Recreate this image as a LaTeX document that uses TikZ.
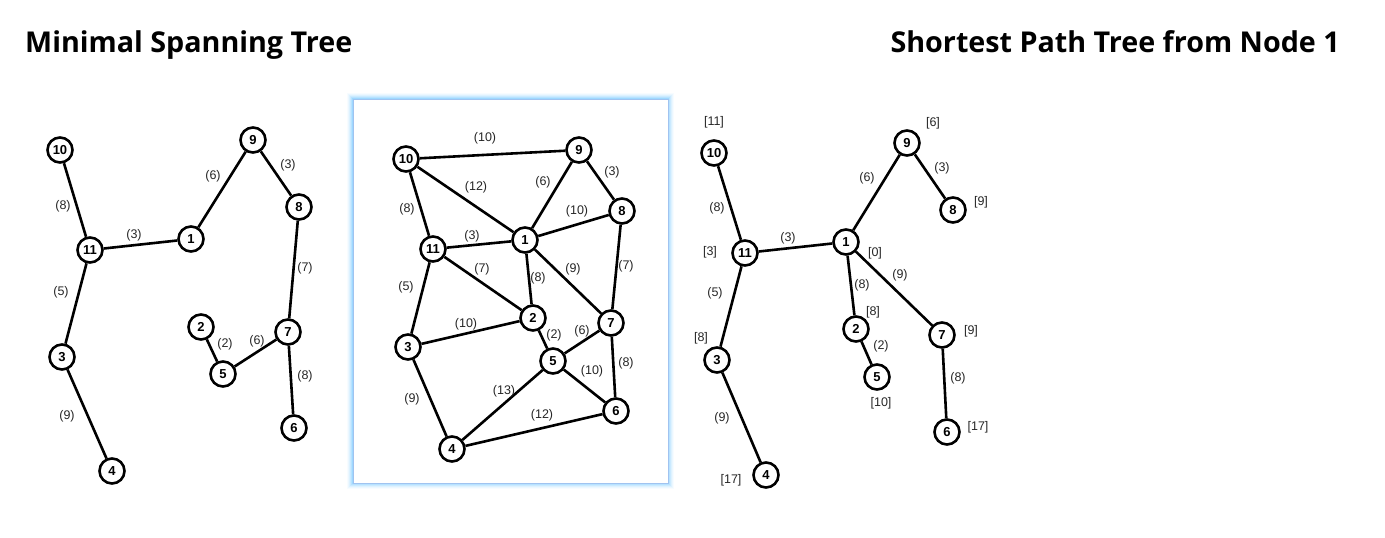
\documentclass[tikz,border=0pt]{standalone}
\usepackage{fontspec}
\setmainfont{Liberation Sans}
\newfontfamily\titlefont{Open Sans}
\begin{document}
\begin{tikzpicture}[x=1pt,y=-1pt,
  vert/.style={circle, draw, line width=2.6pt, fill=white, minimum size=25pt, inner sep=0pt, font=\bfseries\fontsize{13}{13}\selectfont},
  wt/.style={font=\fontsize{12.5}{12.5}\selectfont, text=black!85, inner sep=0pt},
  edge/.style={line width=2.6pt},
  ttl/.style={font=\titlefont\bfseries\fontsize{28.7}{28.7}\selectfont, inner sep=0pt}]
\useasboundingbox (0,0) rectangle (1385,538);
% titles
\node[ttl, anchor=base west] (t1) at (25,52) {Minimal Spanning Tree};
\node[ttl, anchor=base east] (t2) at (1340,52) {Shortest Path Tree from Node 1};
% panel with glow
\foreach \i/\o in {6/0.05,5/0.08,4/0.11,3/0.15,2/0.2,1/0.3}{
  \fill[blue!40!cyan!60, opacity=\o] (353-\i,99-\i) rectangle (668+\i,483+\i);
}
\node[draw={rgb,255:red,160;green,195;blue,240}, line width=1pt, fill=white, minimum width=315pt, minimum height=384pt, inner sep=0pt] (panel) at (510.5,291) {};
% ---------- left tree ----------
\node[vert] (a10) at (60,150) {10};
\node[vert] (a11) at (90,250) {11};
\node[vert] (a1) at (191,239) {1};
\node[vert] (a9) at (253,140) {9};
\node[vert] (a8) at (299,207) {8};
\node[vert] (a7) at (288,332) {7};
\node[vert] (a2) at (201,327) {2};
\node[vert] (a5) at (223,374) {5};
\node[vert] (a6) at (294,428) {6};
\node[vert] (a3) at (62,357) {3};
\node[vert] (a4) at (112,471) {4};
\draw[edge] (a10)--(a11) (a11)--(a1) (a1)--(a9) (a9)--(a8) (a8)--(a7) (a7)--(a5) (a5)--(a2) (a7)--(a6) (a11)--(a3) (a3)--(a4);
\node[wt] (la1) at (63,206) {(8)};
\node[wt] (la2) at (134,235) {(3)};
\node[wt] (la3) at (213,176) {(6)};
\node[wt] (la4) at (288,165) {(3)};
\node[wt] (la5) at (305,268) {(7)};
\node[wt] (la6) at (61,292) {(5)};
\node[wt] (la7) at (225,344) {(2)};
\node[wt] (la8) at (257,341) {(6)};
\node[wt] (la9) at (305,376) {(8)};
\node[wt] (la10) at (67,416) {(9)};
% ---------- middle graph ----------
\node[vert] (b10) at (406,159) {10};
\node[vert] (b9) at (579,150) {9};
\node[vert] (b8) at (622,211) {8};
\node[vert] (b1) at (525,240) {1};
\node[vert] (b11) at (433,249) {11};
\node[vert] (b2) at (533,318) {2};
\node[vert] (b7) at (611,323) {7};
\node[vert] (b3) at (408,347) {3};
\node[vert] (b5) at (553,361) {5};
\node[vert] (b6) at (616,411) {6};
\node[vert] (b4) at (452,449) {4};
\draw[edge] (b10)--(b9) (b10)--(b1) (b1)--(b9) (b9)--(b8) (b1)--(b8) (b10)--(b11) (b11)--(b1)
  (b11)--(b2) (b1)--(b2) (b1)--(b7) (b8)--(b7) (b11)--(b3) (b3)--(b2) (b2)--(b5) (b5)--(b7)
  (b7)--(b6) (b5)--(b6) (b5)--(b4) (b3)--(b4) (b4)--(b6);
\node[wt] (lb1) at (485,138) {(10)};
\node[wt] (lb2) at (476,187) {(12)};
\node[wt] (lb3) at (543,182) {(6)};
\node[wt] (lb4) at (612,172) {(3)};
\node[wt] (lb5) at (577,211) {(10)};
\node[wt] (lb6) at (407,209) {(8)};
\node[wt] (lb7) at (472,236) {(3)};
\node[wt] (lb8) at (482,269) {(7)};
\node[wt] (lb9) at (538,278) {(8)};
\node[wt] (lb10) at (573,269) {(9)};
\node[wt] (lb11) at (626,266) {(7)};
\node[wt] (lb12) at (406,287) {(5)};
\node[wt] (lb13) at (466,324) {(10)};
\node[wt] (lb14) at (554,335) {(2)};
\node[wt] (lb15) at (582,331) {(6)};
\node[wt] (lb16) at (626,363) {(8)};
\node[wt] (lb17) at (592,371) {(10)};
\node[wt] (lb18) at (504,391) {(13)};
\node[wt] (lb19) at (412,399) {(9)};
\node[wt] (lb20) at (542,415) {(12)};
% ---------- right tree ----------
\node[vert] (c10) at (714,153) {10};
\node[vert] (c11) at (745,253) {11};
\node[vert] (c1) at (846,242) {1};
\node[vert] (c9) at (907,143) {9};
\node[vert] (c8) at (953,210) {8};
\node[vert] (c2) at (856,329) {2};
\node[vert] (c7) at (942,335) {7};
\node[vert] (c3) at (717,360) {3};
\node[vert] (c5) at (877,377) {5};
\node[vert] (c6) at (947,432) {6};
\node[vert] (c4) at (766,475) {4};
\draw[edge] (c10)--(c11) (c11)--(c1) (c1)--(c9) (c9)--(c8) (c1)--(c2) (c2)--(c5) (c1)--(c7) (c7)--(c6) (c11)--(c3) (c3)--(c4);
\node[wt] (lc1) at (714,122) {[11]};
\node[wt] (lc2) at (933,123) {[6]};
\node[wt] (lc3) at (942,168) {(3)};
\node[wt] (lc4) at (981,202) {[9]};
\node[wt] (lc5) at (867,178) {(6)};
\node[wt] (lc6) at (717,208) {(8)};
\node[wt] (lc7) at (788,238) {(3)};
\node[wt] (lc8) at (710,252) {[3]};
\node[wt] (lc9) at (875,253) {[0]};
\node[wt] (lc10) at (900,275) {(9)};
\node[wt] (lc11) at (862,285) {(8)};
\node[wt] (lc12) at (715,293) {(5)};
\node[wt] (lc13) at (873,312) {[8]};
\node[wt] (lc14) at (971,331) {[9]};
\node[wt] (lc15) at (701,338) {[8]};
\node[wt] (lc16) at (881,346) {(2)};
\node[wt] (lc17) at (881,403) {[10]};
\node[wt] (lc18) at (958,378) {(8)};
\node[wt] (lc19) at (722,418) {(9)};
\node[wt] (lc20) at (978,427) {[17]};
\node[wt] (lc21) at (731,480) {[17]};
\end{tikzpicture}
\end{document}
